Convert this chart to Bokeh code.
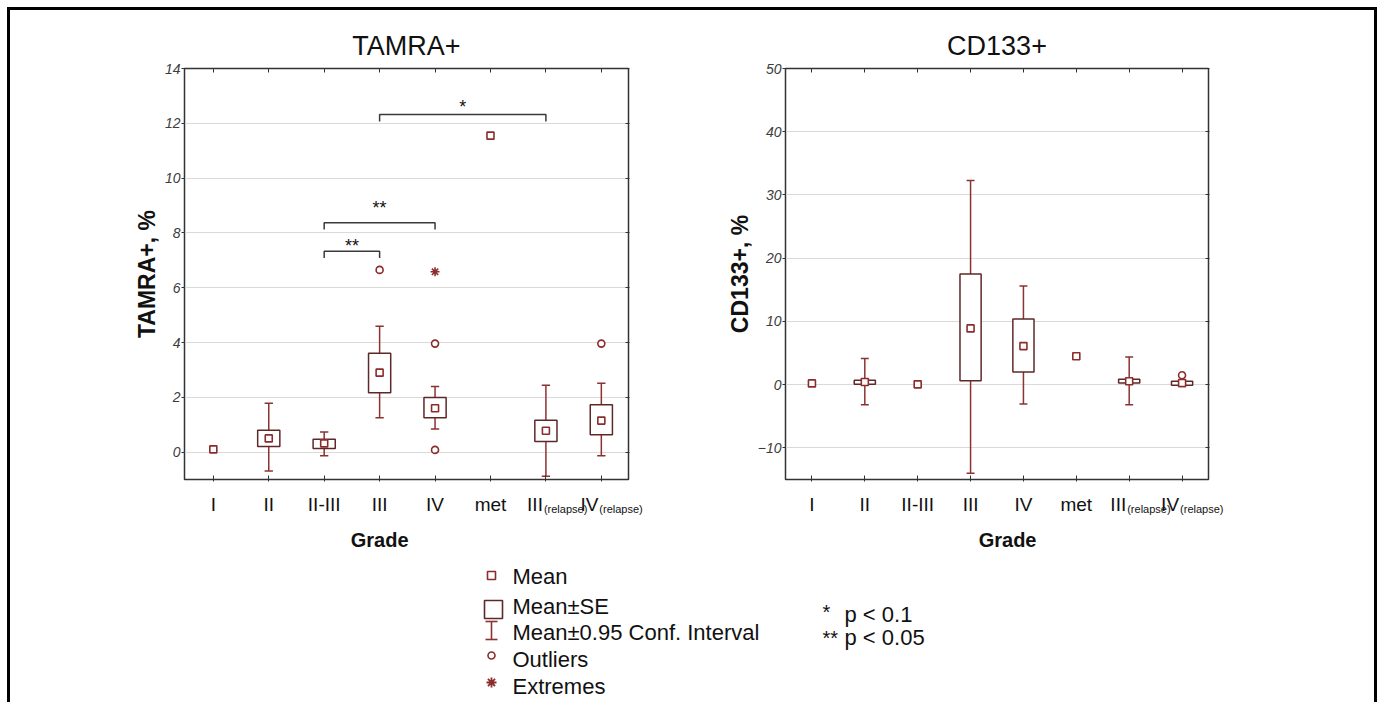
from bokeh.plotting import figure
from bokeh.models import Range1d, FixedTicker, LinearAxis
from bokeh.layouts import column, row
from bokeh.embed import file_html
from bokeh.resources import INLINE
from bokeh.core.properties import value

# ---------------- data ----------------
grade_pos = [1, 2, 3, 4, 5, 6, 7, 8]
grade_main = ["I", "II", "II-III", "III", "IV", "met", "III", "IV"]
grade_sub = ["", "", "", "", "", "", "(relapse)", "(relapse)"]

# TAMRA+
t_mean = [0.1, 0.5, 0.32, 2.9, 1.6, 11.55, 0.78, 1.15]
t_se_lo = [None, 0.2, 0.13, 2.17, 1.25, None, 0.39, 0.63]
t_se_hi = [None, 0.8, 0.47, 3.61, 1.99, None, 1.16, 1.73]
t_ci_lo = [None, -0.69, -0.13, 1.25, 0.84, None, -0.88, -0.13]
t_ci_hi = [None, 1.78, 0.73, 4.59, 2.39, None, 2.44, 2.51]
t_out_g = [4, 5, 5, 8]
t_out_v = [6.65, 3.96, 0.08, 3.96]
t_ext_g = [5]
t_ext_v = [6.58]
t_yticks = [0, 2, 4, 6, 8, 10, 12, 14]
# significance brackets
br_from = [4, 3, 3]
br_to = [7, 5, 4]
br_y = [12.32, 8.37, 7.33]
br_star_y = [12.72, 9.02, 7.63]
br_text = ["*", "**", "**"]

# CD133+
c_mean = [0.2, 0.42, 0.05, 8.9, 6.1, 4.5, 0.53, 0.25]
c_se_lo = [None, 0.05, None, 0.63, 2.0, None, 0.27, -0.1]
c_se_hi = [None, 0.68, None, 17.5, 10.4, None, 0.85, 0.53]
c_ci_lo = [None, -3.17, None, -14.0, -3.06, None, -3.17, -0.3]
c_ci_hi = [None, 4.13, None, 32.3, 15.6, None, 4.39, 0.65]
c_out_g = [8]
c_out_v = [1.48]
c_ext_g = []
c_ext_v = []
c_yticks = [-10, 0, 10, 20, 30, 40, 50]

titles = ["TAMRA+", "CD133+"]
ylabels = ["TAMRA+, %", "CD133+, %"]
grade_label_x = [4.0, 4.7]

legend_labels = ["Mean", "Mean\u00b1SE", "Mean\u00b10.95 Conf. Interval", "Outliers", "Extremes"]
sig_stars = ["*", "**"]
sig_texts = ["p < 0.1", "p < 0.05"]

# ---------------- style / geometry ----------------
FONT = "Liberation Sans"
BOX = "#5e2828"
WHISK = "#8c3232"
MARK = "#8c2c2c"
FRAME = "#333333"
GRID = "#dadada"
TXT = "#111111"

TOTAL_W = 1364
PLOT_H = 472
BOT_H = 695 - 3 - PLOT_H          # page y 483 .. 703
Y_BOT0 = 11 + PLOT_H


def strip(width, height, xr, yr):
    s = figure(width=width, height=height, x_range=Range1d(*xr), y_range=Range1d(*yr),
               output_backend="svg", toolbar_location=None, min_border=0,
               x_axis_location=None, y_axis_location=None)
    s.grid.visible = False
    s.outline_line_color = None
    s.background_fill_color = "white"
    s.border_fill_color = "white"
    return s


def make_plot(title, ylab, mean, se_lo, se_hi, ci_lo, ci_hi, out_g, out_v, ext_g, ext_v,
              yticks, yr, xr, width, mb):
    p = figure(width=width, height=PLOT_H, x_range=Range1d(*xr), y_range=Range1d(*yr),
               output_backend="svg", toolbar_location=None, title=title,
               min_border_left=mb[0], min_border_right=mb[1], min_border_top=mb[2],
               min_border_bottom=mb[3])
    p.title.align = "center"
    p.title.text_font = FONT
    p.title.text_font_size = "27px"
    p.title.text_font_style = "normal"
    p.title.text_color = TXT
    p.title.standoff = 16
    p.outline_line_color = FRAME
    p.outline_line_width = 1.5
    p.background_fill_color = "white"
    p.border_fill_color = "white"
    p.xgrid.visible = False
    p.ygrid.ticker = FixedTicker(ticks=yticks)
    p.ygrid.grid_line_color = GRID
    p.ygrid.grid_line_width = 1

    xa = p.xaxis[0]
    xa.ticker = FixedTicker(ticks=grade_pos)
    xa.major_label_text_color = None
    xa.major_label_text_font_size = "0px"
    xa.major_label_standoff = 0
    xa.major_tick_in = 4
    xa.major_tick_out = 2
    xa.minor_tick_line_color = None
    xa.axis_line_color = FRAME
    xa.major_tick_line_color = FRAME

    ya = p.yaxis[0]
    ya.ticker = FixedTicker(ticks=yticks)
    ya.major_tick_in = 0
    ya.major_tick_out = 3
    ya.minor_tick_line_color = None
    ya.axis_line_color = FRAME
    ya.major_tick_line_color = FRAME
    ya.major_label_text_font = FONT
    ya.major_label_text_font_style = "italic"
    ya.major_label_text_font_size = "14px"
    ya.major_label_text_color = "#3c3c3c"
    ya.major_label_standoff = 1
    ya.axis_label = ylab
    ya.axis_label_text_font = FONT
    ya.axis_label_text_font_style = "bold"
    ya.axis_label_text_font_size = "23px"
    ya.axis_label_text_color = TXT
    ya.axis_label_standoff = 2

    top = LinearAxis(ticker=FixedTicker(ticks=grade_pos), major_label_text_color=None,
                     major_label_text_font_size="0px", major_label_standoff=0,
                     major_tick_in=4, major_tick_out=0, minor_tick_line_color=None,
                     axis_line_color=FRAME, major_tick_line_color=FRAME)
    p.add_layout(top, "above")
    right = LinearAxis(ticker=FixedTicker(ticks=yticks), major_label_text_color=None,
                       major_label_text_font_size="0px", major_label_standoff=0,
                       major_tick_in=3, major_tick_out=1, minor_tick_line_color=None,
                       axis_line_color=FRAME, major_tick_line_color=FRAME)
    p.add_layout(right, "right")

    idx = [i for i in range(len(grade_pos)) if se_lo[i] is not None]
    gx = [grade_pos[i] for i in idx]
    d = dict(
        x=gx,
        lo=[ci_lo[i] for i in idx], hi=[ci_hi[i] for i in idx],
        slo=[se_lo[i] for i in idx], shi=[se_hi[i] for i in idx],
        x0=[g - 0.075 for g in gx], x1=[g + 0.075 for g in gx],
        b0=[g - 0.2 for g in gx], b1=[g + 0.2 for g in gx],
    )
    p.segment(x0="x", y0="lo", x1="x", y1="hi", source=d, line_color=WHISK, line_width=1.5)
    p.segment(x0="x0", y0="lo", x1="x1", y1="lo", source=d, line_color=WHISK, line_width=1.5)
    p.segment(x0="x0", y0="hi", x1="x1", y1="hi", source=d, line_color=WHISK, line_width=1.5)
    p.quad(left="b0", right="b1", bottom="slo", top="shi", source=d,
           fill_color="white", line_color=BOX, line_width=1.5)
    p.scatter(grade_pos, mean, marker="square", size=7, fill_color="white",
              line_color=MARK, line_width=1.6)
    if out_g:
        p.scatter(out_g, out_v, marker="circle", size=7, fill_color="white",
                  line_color=MARK, line_width=1.6)
    if ext_g:
        p.scatter(ext_g, ext_v, marker="asterisk", size=9, line_color=MARK, line_width=1.6)
    return p


XR1 = (0.48, 8.49)
XR2 = (0.5, 8.5)
W1, W2 = 689, 675
MB1 = (174, 71, 58, 3)
MB2 = (86, 166, 58, 3)

p1 = make_plot(titles[0], ylabels[0], t_mean, t_se_lo, t_se_hi, t_ci_lo, t_ci_hi,
               t_out_g, t_out_v, t_ext_g, t_ext_v, t_yticks, (-1, 14), XR1, W1, MB1)
p2 = make_plot(titles[1], ylabels[1], c_mean, c_se_lo, c_se_hi, c_ci_lo, c_ci_hi,
               c_out_g, c_out_v, c_ext_g, c_ext_v, c_yticks, (-15, 50), XR2, W2, MB2)

# significance brackets on TAMRA+
leg = 0.25
bxs = [[a, a, b, b] for a, b in zip(br_from, br_to)]
bys = [[y - leg, y, y, y - leg] for y in br_y]
p1.multi_line(bxs, bys, line_color="#3a3a3a", line_width=1.5)
p1.text([(a + b) / 2 for a, b in zip(br_from, br_to)], br_star_y, text=br_text,
        text_font=value(FONT), text_font_size="18px", text_color=TXT,
        text_align="center", text_baseline="alphabetic", y_offset=3)


# extra x ranges on the full-width strip that reproduce each plot's horizontal scale
def strip_range(xr, frame_left_in_strip, frame_w):
    k = frame_w / (xr[1] - xr[0])
    s0 = xr[0] - frame_left_in_strip / k
    return Range1d(s0, s0 + TOTAL_W / k)


fw1 = W1 - MB1[0] - MB1[1]
fw2 = W2 - MB2[0] - MB2[1]

# ---------------- bottom strip: tick labels, Grade, legend ----------------
bs = strip(TOTAL_W, BOT_H, (11, 11 + TOTAL_W), (Y_BOT0 + BOT_H, Y_BOT0))
bs.extra_x_ranges = {"L": strip_range(XR1, MB1[0], fw1),
                     "R": strip_range(XR2, W1 + MB2[0], fw2)}
cx = [g for g, s in zip(grade_pos, grade_sub) if not s]
ct = [m for m, s in zip(grade_main, grade_sub) if not s]
rx = [g for g, s in zip(grade_pos, grade_sub) if s]
rt = [m for m, s in zip(grade_main, grade_sub) if s]
st = [s for s in grade_sub if s]
for name, gxl in zip(["L", "R"], grade_label_x):
    bs.text(cx, [505] * len(cx), text=ct, x_range_name=name, text_font=value(FONT),
            text_font_size="19px", text_color=TXT, text_align="center",
            text_baseline="alphabetic")
    bs.text(rx, [505] * len(rx), text=rt, x_range_name=name, text_font=value(FONT),
            text_font_size="19px", text_color=TXT, text_align="right",
            text_baseline="alphabetic", x_offset=-3)
    bs.text(rx, [509] * len(rx), text=st, x_range_name=name, text_font=value(FONT),
            text_font_size="11px", text_color=TXT, text_align="left",
            text_baseline="alphabetic", x_offset=-2)
    bs.text([gxl], [540], text=["Grade"], x_range_name=name, text_font=value(FONT),
            text_font_size="20px", text_font_style="bold", text_color=TXT,
            text_align="center", text_baseline="alphabetic")

# legend
bs.scatter([492], [576], marker="square", size=8, fill_color="white", line_color=MARK, line_width=1.6)
bs.scatter([494], [610], marker="square", size=18, fill_color="white", line_color=BOX, line_width=1.6)
bs.segment([492, 486, 486], [622, 622, 640], [492, 498, 498], [640, 622, 640], line_color=WHISK, line_width=1.6)
bs.scatter([492], [656], marker="circle", size=7, fill_color="white", line_color=MARK, line_width=1.6)
bs.scatter([492], [683], marker="asterisk", size=10, line_color=MARK, line_width=1.8)
bs.text([513] * 5, [577, 607, 633, 660, 687], text=legend_labels, text_font=value(FONT),
        text_font_size="22px", text_color=TXT, text_baseline="middle", text_align="left")
bs.text([823, 823], [612, 638], text=sig_stars, text_font=value(FONT), text_font_size="20px",
        text_color=TXT, text_baseline="alphabetic", text_align="left")
bs.text([845, 845], [615, 638], text=sig_texts, text_font=value(FONT), text_font_size="22px",
        text_color=TXT, text_baseline="middle", text_align="left")

layout = column(row(p1, p2), bs)
layout.styles = {"border-left": "3px solid black", "border-top": "3px solid black",
                 "border-right": "3px solid black", "margin-left": "7px", "margin-top": "7px"}

open("out.html", "w").write(file_html(layout, INLINE))
